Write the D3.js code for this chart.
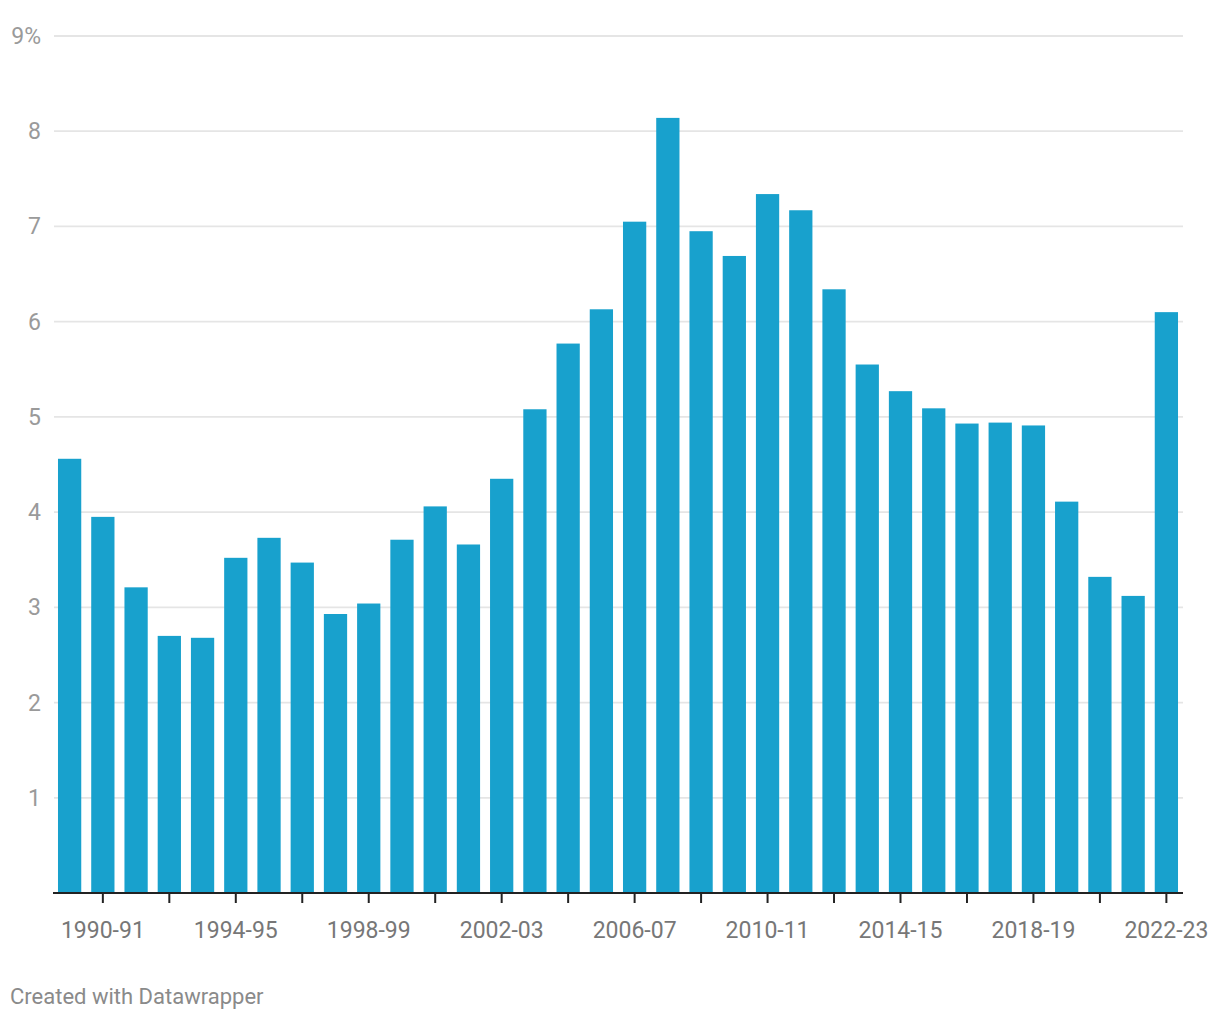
<!DOCTYPE html>
<html>
<head>
<meta charset="utf-8">
<script src="https://cdn.jsdelivr.net/npm/d3@7"></script>
<style>
  body { margin: 0; background: #fff; }
  svg { display: block; font-family: Roboto, "Noto Sans", sans-serif; }
</style>
</head>
<body>
<svg id="chart" width="1220" height="1020"></svg>
<script>
const categories = ["1989-90","1990-91","1991-92","1992-93","1993-94","1994-95","1995-96","1996-97","1997-98","1998-99","1999-00","2000-01","2001-02","2002-03","2003-04","2004-05","2005-06","2006-07","2007-08","2008-09","2009-10","2010-11","2011-12","2012-13","2013-14","2014-15","2015-16","2016-17","2017-18","2018-19","2019-20","2020-21","2021-22","2022-23"];
const values = [4.56,3.95,3.21,2.70,2.68,3.52,3.73,3.47,2.93,3.04,3.71,4.06,3.66,4.35,5.08,5.77,6.13,7.05,8.14,6.95,6.69,7.34,7.17,6.34,5.55,5.27,5.09,4.93,4.94,4.91,4.11,3.32,3.12,6.10];
const yTicks = [1,2,3,4,5,6,7,8,9];
const xTickCats = categories.filter((d,i) => i % 2 === 1);
const xLabelCats = ["1990-91","1994-95","1998-99","2002-03","2006-07","2010-11","2014-15","2018-19","2022-23"];
const credit = "Created with Datawrapper";

const svg = d3.select("#chart");
const mLeft = 53, mRight = 1183, mTop = 36, mBottom = 893;

const x = d3.scaleBand().domain(categories).range([mLeft, mRight]).paddingInner(0.3).paddingOuter(0.15);
const y = d3.scaleLinear().domain([0, 9]).range([mBottom, mTop]);

// gridlines
svg.append("g").selectAll("line").data(yTicks).join("line")
  .attr("x1", mLeft + 1).attr("x2", mRight)
  .attr("y1", d => y(d)).attr("y2", d => y(d))
  .attr("stroke", "#e5e5e5").attr("stroke-width", 1.8);

// y labels
svg.append("g").selectAll("text").data(yTicks).join("text")
  .attr("x", 41).attr("y", d => y(d))
  .attr("dy", "0.35em")
  .attr("text-anchor", "end")
  .attr("fill", "#9a9a9a")
  .attr("font-size", 23)
  .text(d => d === 9 ? "9%" : d);

// bars
svg.append("g").selectAll("rect").data(values).join("rect")
  .attr("x", (d,i) => x(categories[i]))
  .attr("width", x.bandwidth())
  .attr("y", d => y(d))
  .attr("height", d => y(0) - y(d))
  .attr("fill", "#18a1cd");

// x axis
const xAxis = d3.axisBottom(x)
  .tickValues(xTickCats)
  .tickSize(10)
  .tickSizeOuter(0)
  .tickFormat(d => xLabelCats.includes(d) ? d : "");
const gx = svg.append("g").attr("transform", `translate(0,${mBottom})`).call(xAxis);
gx.select(".domain").attr("stroke", "#222").attr("stroke-width", 2)
  .attr("d", `M${mLeft},0H${mRight}`);
gx.selectAll(".tick line").attr("stroke", "#222").attr("stroke-width", 2);
gx.selectAll(".tick text")
  .attr("y", 45)
  .attr("dy", "0")
  .attr("fill", "#777")
  .attr("font-size", 23)
  .attr("font-family", "Roboto, sans-serif");

svg.append("text")
  .attr("x", 10).attr("y", 1004)
  .attr("fill", "#8a8a8a")
  .attr("font-size", 22)
  .text(credit);
</script>
</body>
</html>
